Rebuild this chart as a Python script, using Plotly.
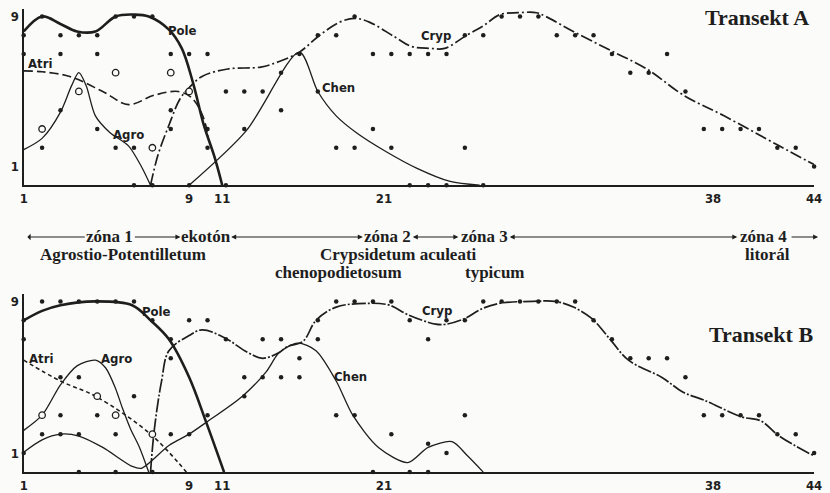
import plotly.graph_objects as go

W, H = 830, 493
INK = "#1e1e1e"
BG = "#fbfbf9"

# ---------------- axes ----------------
x_tick_pos = [1, 10, 11.8, 20.6, 38.5, 44]
x_tick_text = ["1", "9", "11", "21", "38", "44"]
y_tick_vals = [1, 9]
y_tick_text = ["1", "9"]

# ---------------- Transekt A ----------------
pole_a_x = [1, 2, 3, 3.9, 4.9, 6, 7, 7.8, 8.9, 9.6, 10.2, 10.8, 11.35, 11.8]
pole_a_y = [8.2, 9.0, 8.6, 8.2, 8.2, 9.0, 9.1, 9.0, 8.3, 7.3, 5.5, 3.2, 1.6, 0]

atri_a_x = [1, 2, 3.5, 5.3, 6.7, 8.1, 9.4, 10.1, 10.7, 11.05]
atri_a_y = [6.1, 6.05, 5.8, 5.0, 4.3, 4.8, 5.0, 4.7, 3.8, 2.6]

agro_a_x = [1, 2, 3, 3.6, 4, 4.4, 4.9, 5.7, 6.7, 7.4, 7.9]
agro_a_y = [1.9, 2.5, 3.9, 5.3, 6.0, 5.3, 3.7, 2.8, 2.1, 1.0, 0]

cryp_a_x = [7.9, 8.3, 8.9, 9.5, 10, 10.7, 12.1, 13.9, 14.9, 16, 17.1, 18.2, 19,
            19.8, 21.2, 22.1, 23.1, 23.9, 25.1, 26, 26.9, 27.9, 28.9, 29.4,
            30.9, 32.9, 34.9, 36.9, 39.1, 42.1, 44]
cryp_a_y = [0, 1.6, 3.2, 4.6, 5.2, 5.8, 6.2, 6.3, 6.6, 7.1, 8.0, 8.7, 8.9,
            8.7, 7.9, 7.4, 7.3, 7.3, 8.0, 8.5, 9.1, 9.2, 9.2, 9.0,
            8.2, 7.2, 6.2, 4.8, 3.7, 2.1, 1.1]

chen_a_x = [10, 13.1, 16, 17, 18, 19.1, 20.7, 22.4, 24.2, 25.8]
chen_a_y = [0, 2.9, 7.1, 5.0, 3.7, 2.8, 1.8, 0.9, 0.2, 0]

dots_a_x = [1, 1, 2, 2, 3, 3, 3, 4, 5, 5, 5, 6, 6, 7, 7, 7, 8, 8, 9, 9, 9, 10, 10,
            11, 11, 11, 12, 12, 13, 13, 14, 15, 15, 16, 17, 17, 18, 18, 19, 19,
            20, 20, 21, 21, 22, 22, 23, 23, 24, 24, 25, 25, 26, 26, 27, 28, 29,
            30, 31, 32, 33, 34, 35, 36, 37, 38, 39, 40, 41, 42, 43, 44]
dots_a_y = [8, 7, 9, 2, 8, 7, 4, 8, 8, 7, 3, 9, 2, 9, 2, 0, 9, 0, 7, 4, 3, 7, 0,
            7, 3, 2, 5, 0, 5, 3, 5, 6, 4, 7, 8, 5, 8, 2, 9, 2,
            7, 3, 7, 2, 7, 0, 7, 0, 7, 0, 8, 2, 8, 0, 9, 9, 9,
            8, 8, 8, 7, 6, 6, 7, 5, 3, 3, 3, 3, 2, 2, 1]
open_a_x = [2, 4, 6, 8, 9, 10]
open_a_y = [3, 5, 6, 2, 6, 5]

# ---------------- Transekt B ----------------
pole_b_x = [1, 2, 3, 4.9, 6.9, 7.9, 8.9, 10, 10.9, 11.9]
pole_b_y = [8.0, 8.5, 8.8, 9.0, 8.8, 8.0, 7.0, 5.0, 2.7, 0]

atri_b_x = [1, 3, 4.9, 7.9, 9.85]
atri_b_y = [5.9, 4.8, 4.0, 2.0, 0]

agro_b_x = [1, 2, 3, 3.9, 4.9, 5.45, 6, 6.36, 6.8, 7.3, 7.8]
agro_b_y = [2.2, 3.0, 4.6, 5.6, 5.9, 5.5, 4.4, 3.4, 2.3, 1.3, 0]

cryp_b_x = [7.9, 8.1, 8.5, 8.9, 10, 10.7, 11.9, 13.2, 14, 14.9, 15.3, 16.2,
            16.9, 18, 19.8, 20.9, 21.9, 23.4, 24, 25, 25.9, 26.9, 28.7, 29.9,
            30.9, 31.9, 32.9, 33.9, 35.7, 36.9, 38, 40.1, 41.1, 42.1, 44]
cryp_b_y = [0, 2.2, 4.8, 6.4, 7.2, 7.5, 7.1, 6.3, 6.0, 6.3, 6.6, 6.9,
            8.0, 8.7, 8.9, 8.8, 8.3, 7.8, 7.8, 8.1, 8.6, 8.9, 9.0, 9.0,
            8.7, 8.1, 7.0, 5.9, 5.0, 4.2, 3.8, 2.9, 2.7, 1.9, 0.85]

chen_b_x = [1, 2, 3, 4, 5.3, 6.9, 7.4, 8.9, 10, 10.9, 12.9, 14.2, 14.9, 15.9,
            16.9, 18, 18.9, 20.3, 21.9, 23, 24.3, 25.1, 26]
chen_b_y = [1.05, 1.7, 2.0, 1.9, 1.3, 0.3, 0.2, 1.4, 2.0, 2.6, 4.0, 5.3, 6.3, 6.8,
            6.4, 4.8, 3.0, 1.3, 0.5, 1.3, 1.6, 0.9, 0]

dots_b_x = [1, 1, 1, 2, 2, 3, 3, 3, 3, 4, 4, 4, 4, 5, 5, 6, 6, 6, 7, 7, 8, 8,
            9, 9, 9, 10, 10, 11, 11, 12, 13, 13, 14, 14, 15, 15, 16, 16, 17, 17,
            18, 18, 19, 19, 20, 20, 21, 21, 22, 22, 23, 23, 23, 24, 24, 25, 25,
            26, 27, 28, 29, 30, 31, 32, 33, 34, 35, 36, 37, 38, 39, 40, 41, 42,
            43, 44]
dots_b_y = [8, 7, 1, 9, 2, 9, 5, 3, 2, 9, 5, 2, 0, 9, 3, 9, 2, 0, 9, 4, 8, 0,
            7, 6, 2, 8, 2, 8, 3, 7, 5, 4, 7, 5, 7, 5, 6, 5, 8, 7,
            9, 3, 9, 3, 9, 0, 9, 2, 8, 0, 7, 1.5, 0, 8, 1, 8, 3,
            9, 9, 9, 9, 9, 9, 8, 7, 6, 6, 6, 5, 3, 3, 3, 3, 2,
            2, 1]
open_b_x = [2, 5, 6, 8]
open_b_y = [3, 4, 3, 2]

# ---------------- text ----------------
species = ["Pole", "Atri", "Agro", "Chen", "Cryp"]


def pp(px, py):
    return px / W, 1 - py / H


fig = go.Figure()


def add_panel(xa, ya, pole, atri, agro, cryp, chen, dots, opens, atri_dash, cryp_dash):
    common = dict(xaxis=xa, yaxis=ya, mode="lines", showlegend=False,
                  hoverinfo="skip", cliponaxis=False)
    fig.add_trace(go.Scatter(x=pole[0], y=pole[1], name=species[0],
                             line=dict(color=INK, width=2.6, shape="spline", smoothing=1.0), **common))
    fig.add_trace(go.Scatter(x=atri[0], y=atri[1], name=species[1],
                             line=dict(color=INK, width=1.6, dash=atri_dash, shape="spline", smoothing=1.0), **common))
    fig.add_trace(go.Scatter(x=agro[0], y=agro[1], name=species[2],
                             line=dict(color=INK, width=1.3, shape="spline", smoothing=0.8), **common))
    fig.add_trace(go.Scatter(x=chen[0], y=chen[1], name=species[3],
                             line=dict(color=INK, width=1.3, shape="spline", smoothing=0.8), **common))
    fig.add_trace(go.Scatter(x=cryp[0], y=cryp[1], name=species[4],
                             line=dict(color=INK, width=1.7, dash=cryp_dash, shape="spline", smoothing=1.0), **common))
    fig.add_trace(go.Scatter(x=dots[0], y=dots[1], mode="markers", xaxis=xa, yaxis=ya,
                             showlegend=False, hoverinfo="skip", cliponaxis=False,
                             marker=dict(color=INK, size=4.5, symbol="circle")))
    fig.add_trace(go.Scatter(x=opens[0], y=opens[1], mode="markers", xaxis=xa, yaxis=ya,
                             showlegend=False, hoverinfo="skip", cliponaxis=False,
                             marker=dict(color=BG, size=6.5, symbol="circle",
                                         line=dict(color=INK, width=1.3))))


add_panel("x", "y", (pole_a_x, pole_a_y), (atri_a_x, atri_a_y), (agro_a_x, agro_a_y),
          (cryp_a_x, cryp_a_y), (chen_a_x, chen_a_y), (dots_a_x, dots_a_y),
          (open_a_x, open_a_y), "9px,4px", "12px,3px,2px,3px")
add_panel("x2", "y2", (pole_b_x, pole_b_y), (atri_b_x, atri_b_y), (agro_b_x, agro_b_y),
          (cryp_b_x, cryp_b_y), (chen_b_x, chen_b_y), (dots_b_x, dots_b_y),
          (open_b_x, open_b_y), "4px,3px", "14px,2px,2px,2px")

sans = dict(family="DejaVu Sans Condensed, DejaVu Sans", size=13, color=INK, weight="bold")
serif = dict(family="Liberation Serif, Times New Roman, serif", size=17, color=INK, weight="bold")

xaxis_common = dict(range=[1, 44], domain=[20 / W, 822 / W], showline=True, linewidth=2.2,
                    linecolor=INK, showgrid=False, zeroline=False, tickmode="array",
                    tickvals=x_tick_pos, ticktext=x_tick_text, ticks="", tickfont=sans,
                    ticklabeloverflow="allow", fixedrange=True)
yaxis_common = dict(range=[0, 9.4], showline=True, linewidth=2.2, linecolor=INK,
                    showgrid=False, zeroline=False, tickmode="array", tickvals=y_tick_vals,
                    ticktext=y_tick_text, ticks="", tickfont=sans,
                    ticklabeloverflow="allow", fixedrange=True)

fig.update_layout(
    width=W, height=H,
    margin=dict(l=0, r=0, t=0, b=0),
    paper_bgcolor=BG, plot_bgcolor=BG,
    xaxis=dict(**xaxis_common, anchor="y"),
    yaxis=dict(**yaxis_common, domain=[1 - 186 / H, 1 - 9 / H], anchor="x"),
    xaxis2=dict(**xaxis_common, anchor="y2"),
    yaxis2=dict(**yaxis_common, domain=[1 - 474 / H, 1 - 295 / H], anchor="x2"),
)

ann = []
# curve labels (pixel positions of the label centres)
labels = [
    ("Pole", 181, 31), ("Atri", 37, 64), ("Agro", 126, 135), ("Chen", 339, 88), ("Cryp", 438, 36),
    ("Pole", 155, 313), ("Atri", 38, 360), ("Agro", 114, 360), ("Cryp", 439, 312), ("Chen", 352, 378),
]
for t, px, py in labels:
    x, y = pp(px, py)
    ann.append(dict(text=t, x=x, y=y, xref="paper", yref="paper", showarrow=False,
                    font=sans, xanchor="center", yanchor="middle"))

big = dict(serif, size=22)
for t, px, py in [("Transekt A", 819, 18), ("Transekt B", 823, 336)]:
    x, y = pp(px, py)
    ann.append(dict(text=t, x=x, y=y, xref="paper", yref="paper", showarrow=False,
                    font=big, xanchor="right", yanchor="middle"))

# zone texts
zone_texts = [
    ("zóna 1", 107, 237), ("ekotón", 205, 237), ("zóna 2", 389, 237), ("zóna 3", 488, 237),
    ("zóna 4", 771, 237),
    ("Agrostio-Potentilletum", 121, 256), ("Crypsidetum aculeati", 400, 256), ("litorál", 775, 256),
    ("chenopodietosum", 339, 274), ("typicum", 498, 274),
]
for t, px, py in zone_texts:
    x, y = pp(px, py)
    ann.append(dict(text=t, x=x, y=y, xref="paper", yref="paper", showarrow=False,
                    font=serif, xanchor="center", yanchor="middle"))

# arrows of the zone row: (from px, to px, sides)
arrows = [(23, 82, "start"), (132, 179, "end"), (231, 364, "end+start"),
          (414, 461, "end+start"), (515, 744, "end+start"), (798, 826, "end")]
for x0, x1, side in arrows:
    x, y = pp(x1, 238)
    ann.append(dict(text="", x=x, y=y, xref="paper", yref="paper", showarrow=True,
                    ax=x0 - x1, ay=0, axref="pixel", ayref="pixel",
                    arrowhead=2, arrowsize=0.9, arrowwidth=1.1, arrowcolor=INK,
                    arrowside=side, standoff=0, startstandoff=0))

fig.update_layout(annotations=ann)
fig.write_html("out.html")
